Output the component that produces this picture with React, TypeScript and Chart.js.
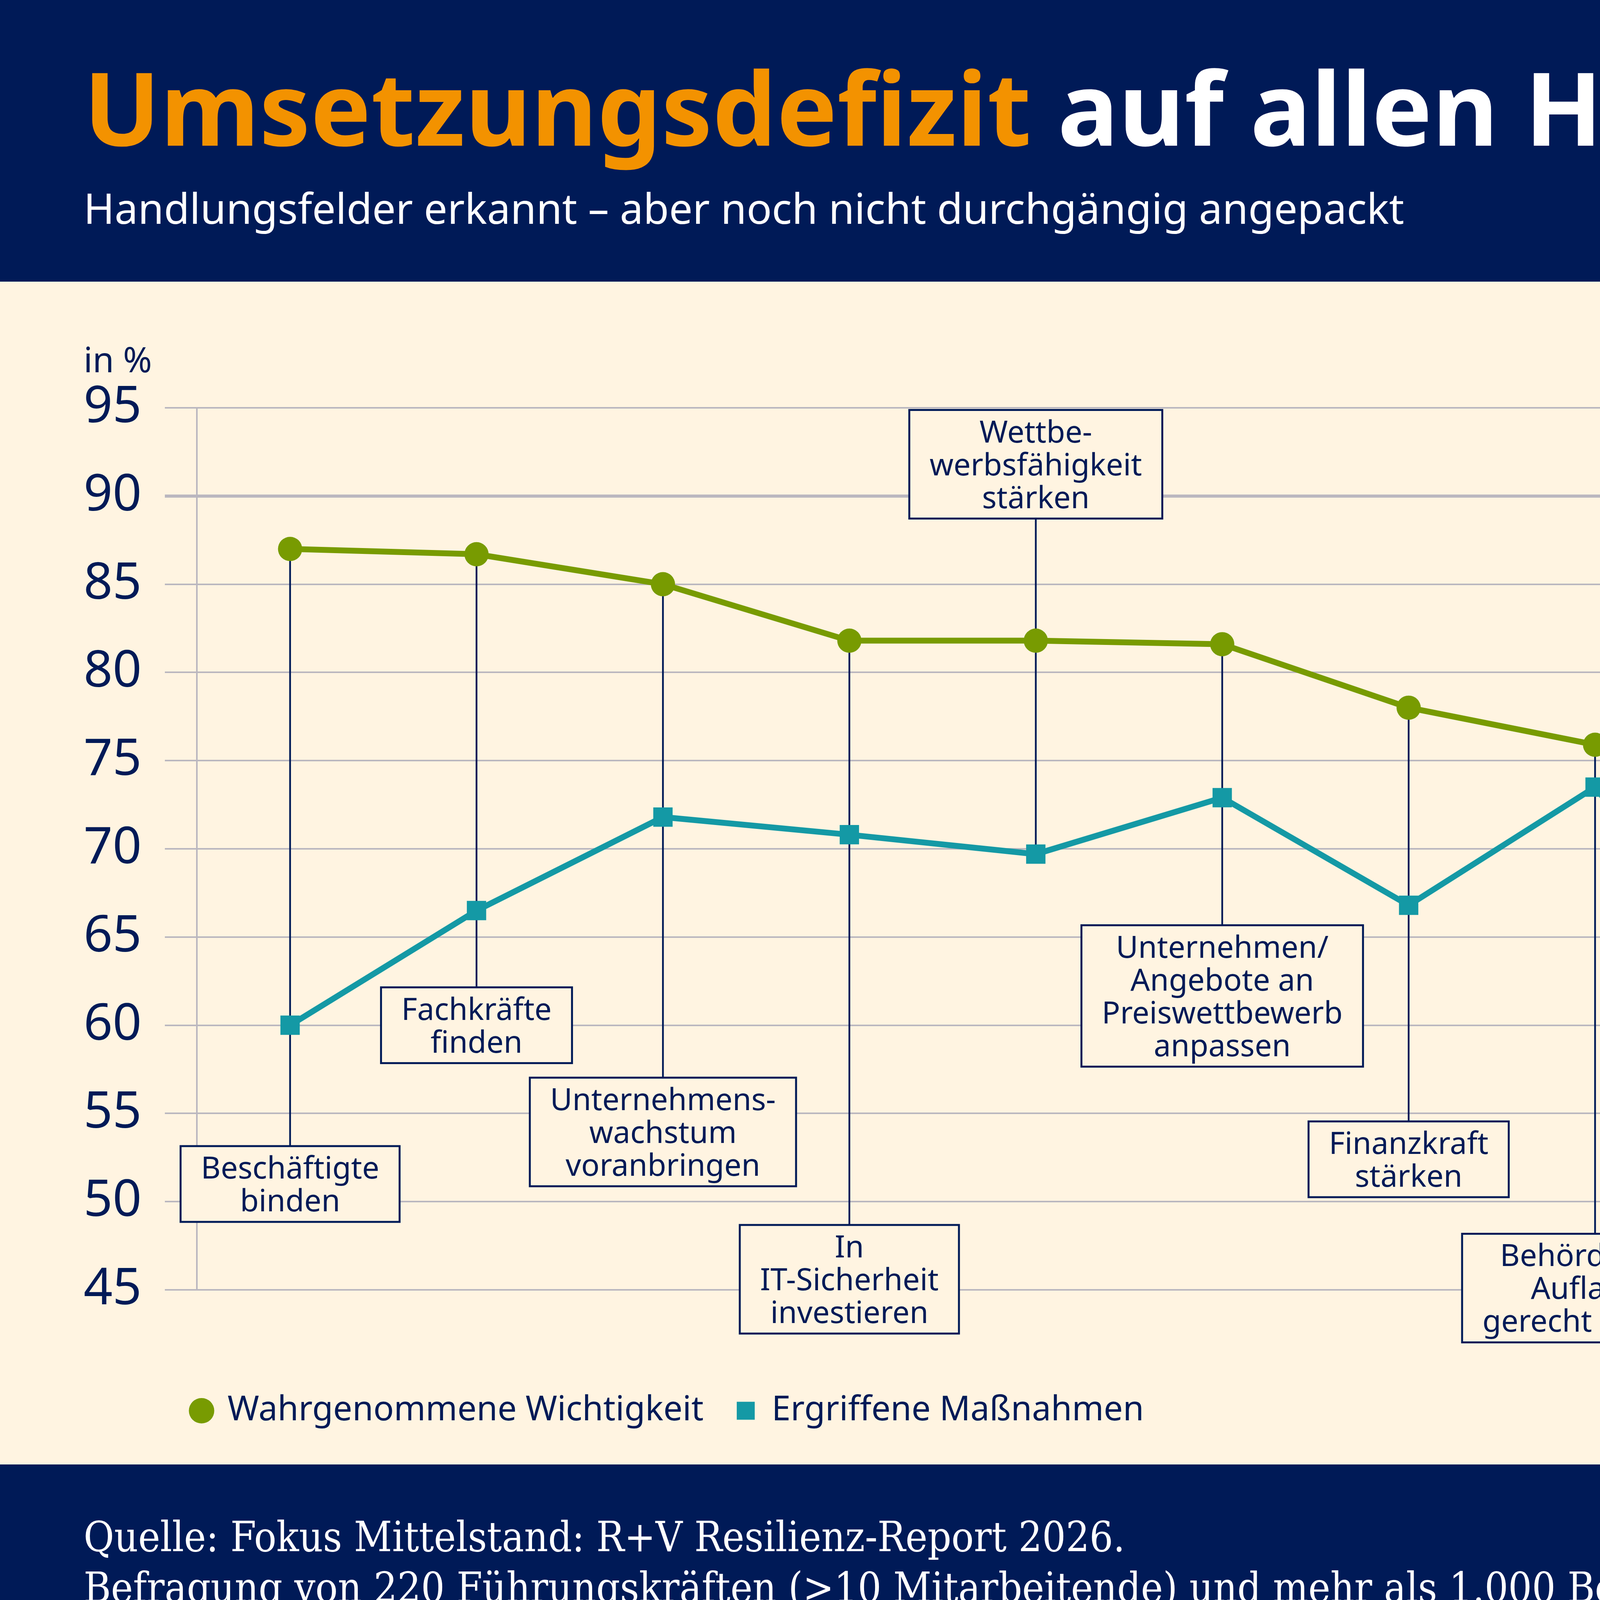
import { useEffect, useRef } from "react"
import { Chart, registerables } from "chart.js"

Chart.register(...registerables)

// Data
const categories = [
  "Beschäftigte binden",
  "Fachkräfte finden",
  "Unternehmenswachstum voranbringen",
  "In IT-Sicherheit investieren",
  "Wettbewerbsfähigkeit stärken",
  "Unternehmen/Angebote an Preiswettbewerb anpassen",
  "Finanzkraft stärken",
  "Behördlichen Auflagen gerecht werden",
  "Gegen Haftungsrisiken absichern",
  "Generationenwechsel einleiten",
  "KI stärker nutzen",
  "Zu Nachhaltigkeit/Klimaschutz beitragen",
]
const importance = [87, 86.7, 85, 81.8, 81.8, 81.6, 78, 75.9, 66.8, 65.9, 64.8, 58.8]
const measures = [60, 66.5, 71.8, 70.8, 69.7, 72.9, 66.8, 73.5, 60, 45.2, 56, 56.8]
const yMin = 45
const yMax = 95
const yStep = 5

// callout texts (line breaks as in the original) and box centre in axis units
const calloutLines = [
  ["Beschäftigte", "binden"],
  ["Fachkräfte", "finden"],
  ["Unternehmens-", "wachstum", "voranbringen"],
  ["In", "IT-Sicherheit", "investieren"],
  ["Wettbe-", "werbsfähigkeit", "stärken"],
  ["Unternehmen/", "Angebote an", "Preiswettbewerb", "anpassen"],
  ["Finanzkraft", "stärken"],
  ["Behördlichen", "Auflagen", "gerecht werden"],
  ["Gegen", "Haftungsrisiken", "absichern"],
  ["Generationen-", "wechsel einleiten"],
  ["KI stärker", "nutzen"],
  ["Zu Nachhaltigkeit/", "Klimaschutz", "beitragen"],
]
const calloutAt = [51.0, 60.0, 53.95, 45.6, 91.8, 61.66, 52.4, 45.1, 83.66, 73.74, 81.67, 45.1]

const NAVY = "#001a57"
const ORANGE = "#f39200"
const CREAM = "#fff4e1"
const GREEN = "#789b01"
const TEAL = "#1499a5"
const GRID = "#bab7bf"
const SANS = "'Noto Sans', sans-serif"
const SERIF = "'DejaVu Serif Condensed', 'DejaVu Serif', serif"

const W = 6444
const H = 4244
const HEADER_H = 721
const FOOTER_TOP = 3749
const CANVAS_H = FOOTER_TOP - HEADER_H

const calloutPlugin = {
  id: "callouts",
  beforeDatasetsDraw(chart: any) {
    const { ctx, scales } = chart
    const x = scales.x
    const y = scales.y
    ctx.save()
    ctx.font = `78px ${SANS}`
    calloutLines.forEach((lines, i) => {
      const cx = x.getPixelForValue(i)
      const cy = y.getPixelForValue(calloutAt[i])
      const h = 110 + (lines.length - 1) * 84
      const w = Math.max(...lines.map((l) => ctx.measureText(l).width)) + 104
      const top = cy - h / 2
      const above = calloutAt[i] > importance[i]
      const y0 = above ? top + h : y.getPixelForValue(importance[i])
      const y1 = above ? y.getPixelForValue(measures[i]) : top

      // connector from the point to the box
      ctx.strokeStyle = NAVY
      ctx.lineWidth = 4.5
      ctx.beginPath()
      ctx.moveTo(cx, y0)
      ctx.lineTo(cx, y1)
      ctx.stroke()

      ctx.fillStyle = CREAM
      ctx.fillRect(cx - w / 2, top, w, h)
      ctx.lineWidth = 5
      ctx.strokeRect(cx - w / 2, top, w, h)

      ctx.fillStyle = NAVY
      ctx.textAlign = "center"
      ctx.textBaseline = "alphabetic"
      lines.forEach((l, k) => {
        ctx.fillText(l, cx, cy + 28 + (k - (lines.length - 1) / 2) * 84)
      })
    })
    ctx.restore()
  },
  afterDraw(chart: any) {
    const { ctx } = chart
    ctx.save()
    ctx.font = `89px ${SANS}`
    ctx.fillStyle = NAVY
    ctx.textAlign = "left"
    ctx.textBaseline = "alphabetic"
    ctx.fillText("in %", 214, 232)
    ctx.restore()
  },
}

function LineChart() {
  const chartRef = useRef<HTMLCanvasElement>(null)
  const chartInstance = useRef<Chart | null>(null)

  useEffect(() => {
    if (!chartRef.current) return
    if (chartInstance.current) chartInstance.current.destroy()

    Chart.defaults.font.family = SANS

    chartInstance.current = new Chart(chartRef.current, {
      type: "line",
      data: {
        labels: categories,
        datasets: [
          {
            label: "Wahrgenommene Wichtigkeit",
            data: importance,
            borderColor: GREEN,
            backgroundColor: GREEN,
            pointBackgroundColor: GREEN,
            borderWidth: 15,
            pointStyle: "circle",
            pointRadius: 31,
            pointBorderWidth: 0,
            tension: 0,
          },
          {
            label: "Ergriffene Maßnahmen",
            data: measures,
            borderColor: TEAL,
            backgroundColor: TEAL,
            pointBackgroundColor: TEAL,
            borderWidth: 15,
            pointStyle: "rect",
            pointRadius: 35,
            pointBorderWidth: 0,
            tension: 0,
          },
        ],
      },
      options: {
        animation: false,
        responsive: false,
        maintainAspectRatio: false,
        devicePixelRatio: 1,
        layout: {
          padding: { left: 408, right: 213, top: 323, bottom: 84 },
        },
        scales: {
          x: {
            type: "category",
            offset: true,
            grid: { display: false },
            border: { display: false },
            ticks: { display: false },
            afterFit: (s: any) => {
              s.height = 181
            },
          },
          y: {
            min: yMin,
            max: yMax,
            grid: {
              color: GRID,
              lineWidth: (c: any) => (c.tick && c.tick.value === 90 ? 8 : 4),
              tickLength: 82,
            },
            border: { display: true, color: GRID, width: 4 },
            ticks: {
              stepSize: yStep,
              // mirrored with a negative padding so the labels sit left of the axis box without clipping
              mirror: true,
              padding: -290,
              color: NAVY,
              font: { size: 130 },
            },
            afterFit: (s: any) => {
              s.width = 96
            },
          },
        },
        plugins: {
          legend: {
            position: "bottom",
            align: "start",
            labels: {
              usePointStyle: true,
              boxWidth: 46,
              boxHeight: 46,
              padding: 85,
              color: NAVY,
              font: { size: 87 },
            },
          },
          tooltip: { enabled: false },
        },
      },
      plugins: [calloutPlugin],
    })

    return () => {
      if (chartInstance.current) {
        chartInstance.current.destroy()
        chartInstance.current = null
      }
    }
  }, [])

  return (
    <canvas
      ref={chartRef}
      width={W}
      height={CANVAS_H}
      style={{ display: "block", width: W, height: CANVAS_H }}
    />
  )
}

export default function App() {
  useEffect(() => {
    document.body.style.margin = "0"
  }, [])

  return (
    <div style={{ position: "relative", width: W, height: H, overflow: "hidden", background: CREAM }}>
      <div style={{ position: "absolute", left: 0, top: 0, width: W, height: HEADER_H, background: NAVY }}>
        <div
          style={{
            position: "absolute",
            left: 214,
            top: 373 - 1.069 * 260,
            fontFamily: SANS,
            fontSize: 260,
            fontWeight: 700,
            lineHeight: "normal",
            whiteSpace: "nowrap",
          }}
        >
          <span style={{ color: ORANGE }}>Umsetzungsdefizit</span>
          <span style={{ color: "#ffffff" }}> auf allen Handlungsfeldern</span>
        </div>
        <div
          style={{
            position: "absolute",
            left: 214,
            top: 573 - 1.069 * 107,
            fontFamily: SANS,
            fontSize: 107,
            color: "#ffffff",
            lineHeight: "normal",
            whiteSpace: "nowrap",
          }}
        >
          Handlungsfelder erkannt – aber noch nicht durchgängig angepackt
        </div>
      </div>

      <div style={{ position: "absolute", left: 0, top: HEADER_H, width: W, height: CANVAS_H }}>
        <LineChart />
      </div>

      <div style={{ position: "absolute", left: 0, top: FOOTER_TOP, width: W, height: H - FOOTER_TOP, background: NAVY }}>
        <div
          style={{
            position: "absolute",
            left: 214,
            top: 219 - 0.928 * 106,
            fontFamily: SERIF,
            fontStretch: "condensed",
            fontSize: 106,
            color: "#ffffff",
            lineHeight: "130px",
            whiteSpace: "nowrap",
          }}
        >
          <div>Quelle: Fokus Mittelstand: R+V Resilienz-Report 2026.</div>
          <div>Befragung von 220 Führungskräften (&gt;10 Mitarbeitende) und mehr als 1.000 Beschäftigten zur Jahreswende 2025/2026.</div>
        </div>
      </div>
    </div>
  )
}
